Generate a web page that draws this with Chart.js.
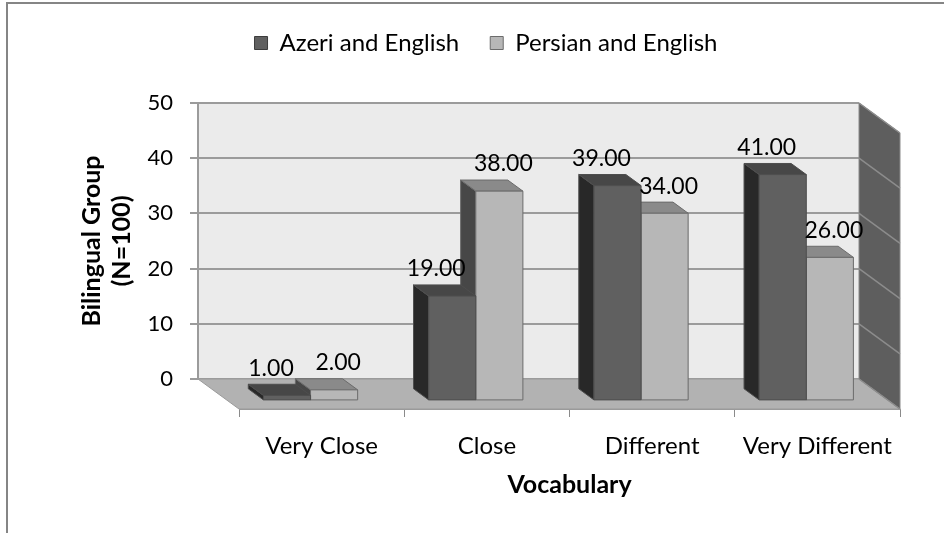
<!DOCTYPE html>
<html>
<head>
<meta charset="utf-8">
<script src="https://cdn.jsdelivr.net/npm/chart.js@4.4.1/dist/chart.umd.min.js"></script>
<style>
	html, body { margin: 0; padding: 0; background: #fff; }
	#wrap { position: relative; width: 944px; height: 533px; overflow: hidden; }
	#frame { position: absolute; left: 6px; top: 2px; width: 980px; height: 580px; border-left: 2px solid #858585; border-top: 2px solid #858585; pointer-events: none; }
</style>
</head>
<body>
<div id="wrap">
	<canvas id="chart" width="944" height="533"></canvas>
	<div id="frame"></div>
</div>
<script>
var categories = ["Very Close", "Close", "Different", "Very Different"];
var azeriEnglish = [1, 19, 39, 41];
var persianEnglish = [2, 38, 34, 26];
var yTicks = [0, 10, 20, 30, 40, 50];

// oblique depth of the 3D box, and where the bars sit inside it
var DEPTH_X = 41, DEPTH_Y = 30;
var BAR_BACK = 0.36, BAR_FRONT = 0.73;
var LEGEND_GAP = 38;

Chart.defaults.font.family = "Lato";
Chart.defaults.color = "#000";

function poly(ctx, pts, fill, stroke) {
	ctx.beginPath();
	ctx.moveTo(pts[0][0], pts[0][1]);
	for (var i = 1; i < pts.length; i++) ctx.lineTo(pts[i][0], pts[i][1]);
	ctx.closePath();
	ctx.fillStyle = fill;
	ctx.fill();
	if (stroke) { ctx.strokeStyle = stroke; ctx.stroke(); }
}

var box3d = {
	id: "box3d",
	beforeLayout(chart) {
		var xs = chart.scales.x;
		if (xs && !xs._moved) {
			xs._moved = true;
			var protoDraw = Object.getPrototypeOf(xs).draw;
			// the category axis lies on the front edge of the floor
			xs.draw = function (area) {
				this.ctx.save();
				this.ctx.translate(DEPTH_X, DEPTH_Y);
				protoDraw.call(this, area);
				this.ctx.restore();
			};
		}
		var lg = chart.legend;
		if (lg && !lg._grown) {
			lg._grown = true;
			var fit = lg.fit;
			lg.fit = function () { fit.call(this); this.height += LEGEND_GAP; };
		}
	},
	beforeDraw(chart) {
		var a = chart.chartArea, ctx = chart.ctx;
		ctx.save();
		ctx.fillStyle = "#ebebeb";
		ctx.fillRect(a.left, a.top, a.right - a.left, a.bottom - a.top);
		ctx.restore();
	},
	beforeDatasetsDraw(chart) {
		var a = chart.chartArea, ctx = chart.ctx, ys = chart.scales.y;
		ctx.save();
		ctx.lineWidth = 1;
		// floor
		poly(ctx, [[a.left, a.bottom], [a.right, a.bottom], [a.right + DEPTH_X, a.bottom + DEPTH_Y], [a.left + DEPTH_X, a.bottom + DEPTH_Y]], "#b2b2b2", "#9a9a9a");
		// side wall
		poly(ctx, [[a.right, a.top], [a.right + DEPTH_X, a.top + DEPTH_Y], [a.right + DEPTH_X, a.bottom + DEPTH_Y], [a.right, a.bottom]], "#5e5e5e", "#8a8a8a");
		ctx.strokeStyle = "#8c8c8c";
		ctx.lineWidth = 1.5;
		yTicks.forEach(function (v) {
			var y = ys.getPixelForValue(v);
			ctx.beginPath();
			ctx.moveTo(a.right, y);
			ctx.lineTo(a.right + DEPTH_X, y + DEPTH_Y);
			ctx.stroke();
		});
		ctx.restore();
	},
	beforeDatasetDraw() {
		return false;
	},
	afterDatasetsDraw(chart) {
		var ctx = chart.ctx;
		var fx = DEPTH_X * BAR_FRONT, fy = DEPTH_Y * BAR_FRONT;
		var dx = DEPTH_X * (BAR_FRONT - BAR_BACK), dy = DEPTH_Y * (BAR_FRONT - BAR_BACK);
		var labels = [];
		ctx.save();
		ctx.lineWidth = 1;
		ctx.lineJoin = "round";
		for (var d = chart.data.datasets.length - 1; d >= 0; d--) {
			var ds = chart.data.datasets[d];
			chart.getDatasetMeta(d).data.forEach(function (bar, i) {
				var p = bar.getProps(["x", "y", "base", "width"], true);
				var x0 = p.x - p.width / 2 + fx, x1 = p.x + p.width / 2 + fx;
				var yt = p.y + fy, yb = p.base + fy;
				poly(ctx, [[x0, yt], [x0 - dx, yt - dy], [x0 - dx, yb - dy], [x0, yb]], ds.sideColor, ds.edgeColor);
				poly(ctx, [[x0, yt], [x1, yt], [x1 - dx, yt - dy], [x0 - dx, yt - dy]], ds.topColor, ds.edgeColor);
				poly(ctx, [[x0, yt], [x1, yt], [x1, yb], [x0, yb]], ds.backgroundColor, ds.edgeColor);
				labels.push({ text: ds.data[i].toFixed(2), x: (x0 + x1) / 2 + ds.labelShift, y: yt - dy - 16 });
			});
		}
		ctx.font = "23px Lato";
		ctx.fillStyle = "#000";
		ctx.textAlign = "center";
		ctx.textBaseline = "middle";
		labels.forEach(function (l) { ctx.fillText(l.text, l.x, l.y); });
		ctx.restore();
	}
};

new Chart(document.getElementById("chart"), {
	type: "bar",
	data: {
		labels: categories,
		datasets: [
			{
				label: "Azeri and English",
				data: azeriEnglish,
				backgroundColor: "#606060",
				borderColor: "#3c3c3c",
				borderWidth: 1,
				sideColor: "#282828",
				topColor: "#474747",
				edgeColor: "#4e4e4e",
				labelShift: -16,
			},
			{
				label: "Persian and English",
				data: persianEnglish,
				backgroundColor: "#b7b7b7",
				borderColor: "#6b6b6b",
				borderWidth: 1,
				sideColor: "#474747",
				topColor: "#8a8a8a",
				edgeColor: "#6b6b6b",
				labelShift: 4,
			},
		],
	},
	options: {
		responsive: false,
		animation: false,
		layout: { padding: { left: 28, right: 0, top: 0, bottom: 0 } },
		datasets: { bar: { categoryPercentage: 0.57, barPercentage: 1 } },
		plugins: {
			tooltip: { enabled: false },
			legend: {
				position: "top",
				labels: { boxWidth: 13, boxHeight: 13, padding: 31, font: { size: 24 }, color: "#000" },
			},
		},
		scales: {
			x: {
				grid: { display: true, drawOnChartArea: false, drawTicks: true, tickLength: 8, color: "#8a8a8a", offset: true },
				border: { display: true, color: "#9a9a9a" },
				ticks: { font: { size: 24 }, padding: 15, z: 1 },
				title: { display: true, text: "Vocabulary", font: { size: 25, weight: "bold" }, padding: { top: 0, bottom: 63 } },
				afterFit(scale) { scale.height = 154; },
			},
			y: {
				min: yTicks[0],
				max: yTicks[yTicks.length - 1],
				ticks: { stepSize: yTicks[1] - yTicks[0], font: { size: 22 }, padding: 17 },
				grid: { color: "#9b9b9b", lineWidth: 2, tickLength: 8 },
				border: { display: true, color: "#9b9b9b", width: 2 },
				title: {
					display: true,
					text: ["Bilingual Group", "(N=100)"],
					font: { size: 25, weight: "bold", lineHeight: 1.2 },
					padding: { top: 49, bottom: 0 },
				},
				afterFit(scale) { scale.width = 170; },
			},
			side: {
				type: "linear",
				position: "right",
				grid: { display: false },
				border: { display: false },
				ticks: { display: false },
				afterFit(scale) { scale.width = 85; },
			},
		},
	},
	plugins: [box3d],
});
</script>
</body>
</html>
